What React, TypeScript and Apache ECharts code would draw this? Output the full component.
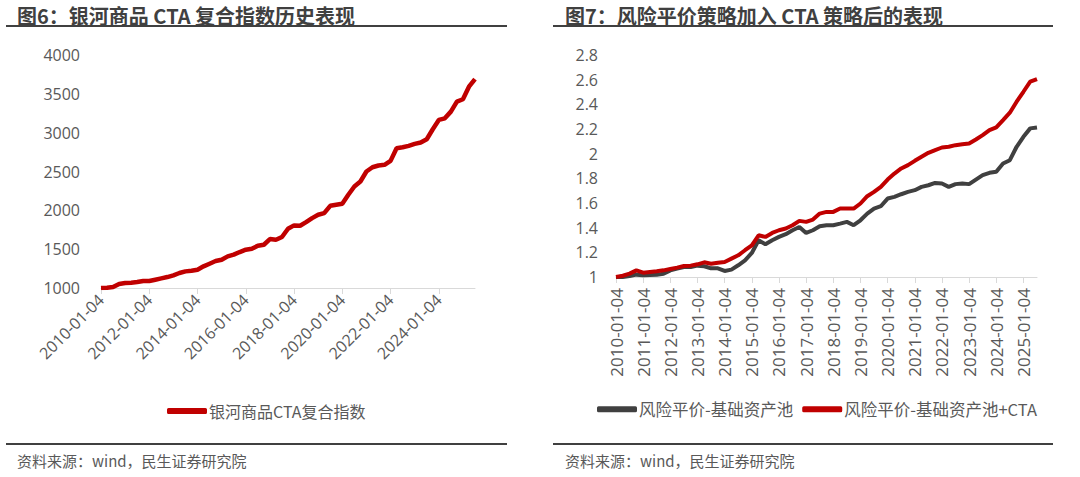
import React, { useEffect, useRef } from "react";
import * as echarts from "echarts";

const quarters = ["01", "04", "07", "10"];
const dates: string[] = [];
for (let y = 2010; y <= 2025; y++) {
  for (const m of quarters) {
    if (y === 2025 && m === "10") continue;
    dates.push(`${y}-${m}-04`);
  }
}

const ctaIndex = [1000, 1004, 1013, 1051, 1064, 1069, 1077, 1090, 1090, 1107, 1124, 1141, 1163, 1193, 1214, 1223, 1236, 1279, 1313, 1347, 1364, 1407, 1429, 1463, 1493, 1506, 1544, 1557, 1630, 1621, 1656, 1763, 1806, 1801, 1848, 1900, 1943, 1964, 2058, 2071, 2084, 2200, 2307, 2371, 2500, 2555, 2577, 2586, 2637, 2800, 2813, 2830, 2855, 2873, 2915, 3044, 3164, 3185, 3271, 3400, 3430, 3592, 3690];

const rpBase = [1.0, 1.0, 1.008, 1.019, 1.014, 1.016, 1.019, 1.027, 1.054, 1.068, 1.081, 1.081, 1.092, 1.087, 1.07, 1.07, 1.049, 1.06, 1.095, 1.135, 1.195, 1.298, 1.265, 1.298, 1.325, 1.347, 1.379, 1.406, 1.357, 1.379, 1.411, 1.42, 1.42, 1.433, 1.447, 1.42, 1.46, 1.514, 1.555, 1.574, 1.636, 1.65, 1.671, 1.69, 1.704, 1.731, 1.744, 1.763, 1.758, 1.731, 1.753, 1.758, 1.753, 1.79, 1.826, 1.845, 1.853, 1.92, 1.947, 2.056, 2.137, 2.205, 2.213];

const rpCta = [1.0, 1.01, 1.027, 1.054, 1.035, 1.041, 1.046, 1.054, 1.065, 1.076, 1.089, 1.092, 1.103, 1.119, 1.108, 1.116, 1.122, 1.149, 1.176, 1.217, 1.257, 1.338, 1.325, 1.357, 1.379, 1.393, 1.42, 1.455, 1.447, 1.466, 1.514, 1.528, 1.528, 1.555, 1.555, 1.555, 1.596, 1.655, 1.69, 1.731, 1.79, 1.839, 1.88, 1.907, 1.942, 1.975, 2.007, 2.029, 2.05, 2.056, 2.069, 2.077, 2.083, 2.115, 2.15, 2.191, 2.213, 2.272, 2.332, 2.421, 2.502, 2.584, 2.605];

const leftTitle = "图6：银河商品 CTA 复合指数历史表现";
const rightTitle = "图7：风险平价策略加入 CTA 策略后的表现";
const sourceText = "资料来源：wind，民生证券研究院";
const nameCta = "银河商品CTA复合指数";
const nameBase = "风险平价-基础资产池";
const nameRpCta = "风险平价-基础资产池+CTA";

const FONT = "'Noto Sans CJK SC', 'Noto Sans', sans-serif";
const NUMFONT = "'Open Sans', 'Noto Sans CJK SC', sans-serif";
const RED = "#C00000";
const GRAY = "#404040";
const TXT = "#595959";

export default function App() {
  const ref = useRef<HTMLDivElement>(null);
  useEffect(() => {
    if (!ref.current) return;
    const chart = echarts.init(ref.current, undefined, { renderer: "svg" });
    const axisLabelBase = { color: TXT, fontFamily: NUMFONT, fontSize: 16 };
    const plain = (v: number) => String(v);
    chart.setOption({
      animation: false,
      textStyle: { fontFamily: FONT },
      grid: [
        { left: 101, top: 55, width: 374, height: 233 },
        { left: 616, top: 55, width: 421, height: 222 },
      ],
      xAxis: [
        {
          type: "category",
          gridIndex: 0,
          data: dates,
          boundaryGap: false,
          axisLine: { lineStyle: { color: "#d9d9d9", width: 1 } },
          axisTick: { interval: 7, length: 6, lineStyle: { color: "#d9d9d9" } },
          axisLabel: { ...axisLabelBase, fontSize: 16, interval: 7, rotate: 45, margin: 9 },
        },
        {
          type: "category",
          gridIndex: 1,
          data: dates,
          boundaryGap: false,
          axisLine: { lineStyle: { color: "#d9d9d9", width: 1 } },
          axisTick: { interval: 3, length: 6, lineStyle: { color: "#d9d9d9" } },
          axisLabel: { ...axisLabelBase, fontSize: 17, interval: 3, rotate: 90, margin: 11 },
        },
      ],
      yAxis: [
        {
          type: "value",
          gridIndex: 0,
          min: 1000,
          max: 4000,
          interval: 500,
          splitLine: { show: false },
          axisLine: { show: false },
          axisTick: { show: false },
          axisLabel: { ...axisLabelBase, margin: 21, formatter: plain },
        },
        {
          type: "value",
          gridIndex: 1,
          min: 1,
          max: 2.8,
          interval: 0.2,
          splitLine: { show: false },
          axisLine: { show: false },
          axisTick: { show: false },
          axisLabel: { ...axisLabelBase, margin: 18, formatter: plain },
        },
      ],
      legend: [
        {
          data: [nameCta],
          left: 162,
          top: 398,
          icon: "roundRect",
          itemWidth: 40,
          itemHeight: 6,
          itemGap: 4,
          textStyle: { color: TXT, fontSize: 16, fontFamily: FONT, padding: [0, 0, 0, -3] },
        },
        {
          data: [nameBase, nameRpCta],
          left: 592,
          top: 396,
          icon: "roundRect",
          itemWidth: 40,
          itemHeight: 6,
          itemGap: 9,
          textStyle: { color: TXT, fontSize: 16.5, fontFamily: FONT, padding: [0, 0, 0, -3] },
        },
      ],
      series: [
        {
          name: nameCta,
          type: "line",
          xAxisIndex: 0,
          yAxisIndex: 0,
          data: ctaIndex,
          showSymbol: false,
          symbol: "none",
          color: RED,
          lineStyle: { color: RED, width: 4.5 },
        },
        {
          name: nameBase,
          type: "line",
          xAxisIndex: 1,
          yAxisIndex: 1,
          data: rpBase,
          showSymbol: false,
          symbol: "none",
          color: GRAY,
          lineStyle: { color: GRAY, width: 4 },
        },
        {
          name: nameRpCta,
          type: "line",
          xAxisIndex: 1,
          yAxisIndex: 1,
          data: rpCta,
          showSymbol: false,
          symbol: "none",
          color: RED,
          lineStyle: { color: RED, width: 4 },
        },
      ],
      graphic: [
        {
          type: "text",
          x: 17,
          y: 15,
          style: { text: leftTitle, fill: GRAY, font: `bold 20px ${FONT}`, verticalAlign: "middle" },
        },
        {
          type: "text",
          x: 565,
          y: 15,
          style: { text: rightTitle, fill: GRAY, font: `bold 20px ${FONT}`, verticalAlign: "middle" },
        },
        { type: "line", shape: { x1: 6, y1: 26, x2: 507, y2: 26 }, style: { stroke: GRAY, lineWidth: 2 } },
        { type: "line", shape: { x1: 553, y1: 26, x2: 1053, y2: 26 }, style: { stroke: GRAY, lineWidth: 2 } },
        { type: "line", shape: { x1: 6, y1: 444, x2: 507, y2: 444 }, style: { stroke: GRAY, lineWidth: 2 } },
        { type: "line", shape: { x1: 553, y1: 444, x2: 1053, y2: 444 }, style: { stroke: GRAY, lineWidth: 2 } },
        {
          type: "text",
          x: 17,
          y: 460,
          style: { text: sourceText, fill: TXT, font: `15px ${FONT}`, verticalAlign: "middle" },
        },
        {
          type: "text",
          x: 565,
          y: 460,
          style: { text: sourceText, fill: TXT, font: `15px ${FONT}`, verticalAlign: "middle" },
        },
      ],
    });
    return () => chart.dispose();
  }, []);
  return (
    <div
      ref={ref}
      style={{ position: "fixed", left: 0, top: 0, width: 1080, height: 477, background: "#fff" }}
    />
  );
}
